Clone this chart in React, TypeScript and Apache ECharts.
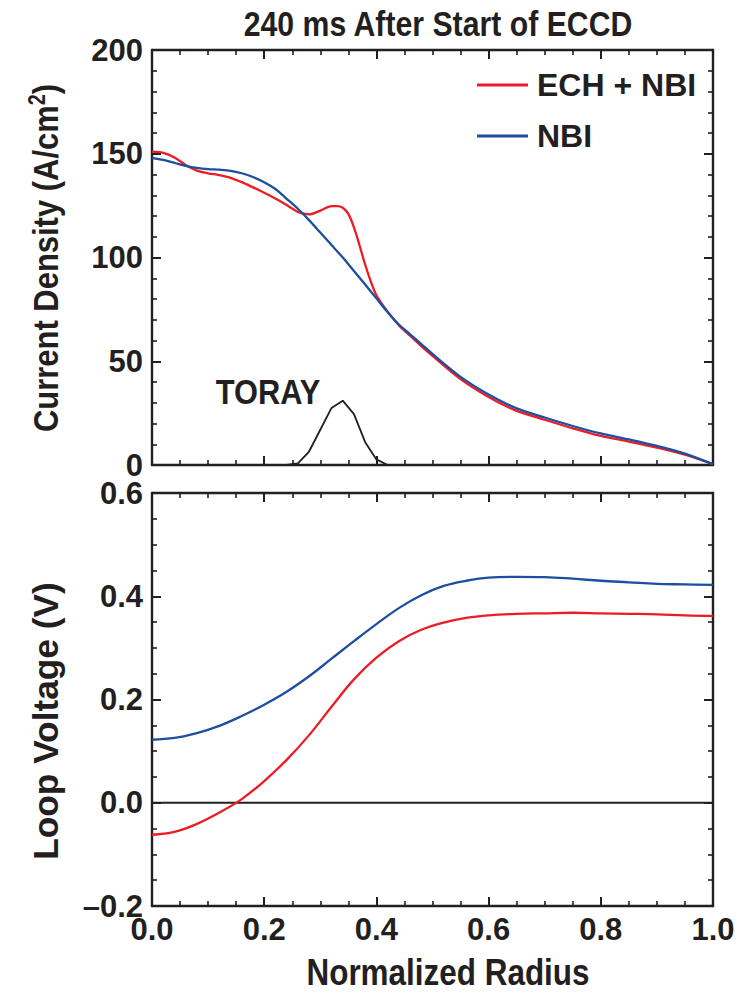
import React, { useEffect, useRef } from "react";
import * as echarts from "echarts";

// ---- Data ----
const xTicks = [0, 0.2, 0.4, 0.6, 0.8, 1.0];

// Top panel: current density (A/cm^2)
const radiusNbiTop = [0, 0.02, 0.04, 0.06, 0.08, 0.1, 0.12, 0.14, 0.16, 0.18, 0.2, 0.22, 0.24, 0.26, 0.28, 0.3, 0.32, 0.34, 0.36, 0.38, 0.4, 0.42, 0.44, 0.46, 0.48, 0.5, 0.55, 0.6, 0.65, 0.7, 0.75, 0.8, 0.85, 0.9, 0.95, 1.0];
const currentNbi = [148.0, 147.0, 145.6, 144.2, 143.2, 142.6, 142.3, 141.8, 140.6, 138.8, 136.3, 133.0, 128.3, 123.5, 118.0, 112.0, 106.0, 100.0, 93.5, 87.0, 80.3, 73.7, 67.7, 63.0, 58.3, 53.5, 42.5, 34.0, 27.3, 22.9, 18.8, 15.2, 12.3, 9.2, 5.5, 0.4];

const radiusEchTop = [0, 0.02, 0.04, 0.06, 0.08, 0.1, 0.12, 0.14, 0.16, 0.18, 0.2, 0.22, 0.24, 0.26, 0.28, 0.3, 0.32, 0.33, 0.34, 0.35, 0.36, 0.37, 0.38, 0.39, 0.4, 0.42, 0.44, 0.46, 0.48, 0.5, 0.55, 0.6, 0.65, 0.7, 0.75, 0.8, 0.85, 0.9, 0.95, 1.0];
const currentEch = [151.0, 150.4, 148.2, 144.6, 141.9, 140.6, 139.7, 138.4, 136.3, 133.8, 131.2, 128.4, 125.3, 122.0, 120.8, 122.6, 124.8, 124.8, 124.0, 121.0, 114.5, 105.8, 96.5, 88.5, 81.8, 73.9, 67.4, 62.3, 57.3, 52.6, 41.4, 32.8, 26.1, 21.8, 17.7, 14.0, 11.3, 8.4, 5.0, 0.4];

const radiusToray = [0.24, 0.26, 0.28, 0.3, 0.32, 0.34, 0.36, 0.38, 0.4, 0.42];
const currentToray = [0, 0.8, 6.5, 17, 27.5, 31, 24.5, 11, 2.7, 0];

// Bottom panel: loop voltage (V)
const radiusBottom = [0, 0.04, 0.08, 0.12, 0.16, 0.2, 0.24, 0.28, 0.32, 0.36, 0.4, 0.44, 0.48, 0.52, 0.56, 0.6, 0.65, 0.7, 0.75, 0.8, 0.85, 0.9, 0.95, 1.0];
const voltageNbi = [0.122, 0.1255, 0.135, 0.149, 0.168, 0.19, 0.215, 0.245, 0.279, 0.313, 0.346, 0.377, 0.402, 0.42, 0.43, 0.436, 0.4375, 0.437, 0.434, 0.43, 0.427, 0.424, 0.423, 0.422];
const voltageEch = [-0.062, -0.0565, -0.041, -0.019, 0.007, 0.042, 0.083, 0.131, 0.186, 0.239, 0.281, 0.313, 0.335, 0.349, 0.358, 0.363, 0.366, 0.367, 0.368, 0.367, 0.366, 0.365, 0.363, 0.362];

const zeroLineX = [0, 1];
const zeroLineY = [0, 0];

const currentTicks = [0, 50, 100, 150, 200];
const voltageTicks = [-0.2, 0, 0.2, 0.4, 0.6];

const RED = "#ec1c24";
const BLUE = "#1c4f9f";
const INK = "#231f20";
const FONT = "'Liberation Sans', Arial, sans-serif";

const zip = (xs: number[], ys: number[]) => xs.map((x, i) => [x, ys[i]]);

const fmtVolt = (v: number) => {
  const r = Math.round(v * 10) / 10;
  return r < 0 ? "\u2013" + Math.abs(r).toFixed(1) : r.toFixed(1);
};

function makeX(gridIndex: number, position: string, labels: boolean) {
  return {
    type: "value",
    gridIndex,
    position,
    min: xTicks[0],
    max: xTicks[xTicks.length - 1],
    interval: 0.2,
    axisLine: { show: true, onZero: false, lineStyle: { color: INK, width: 2.4 } },
    axisTick: { show: true, inside: true, length: 9, lineStyle: { color: INK, width: 2 } },
    minorTick: { show: true, splitNumber: 4, length: 5, lineStyle: { color: INK, width: 1.6 } },
    splitLine: { show: false },
    axisLabel: {
      show: labels,
      margin: 11,
      color: INK,
      fontFamily: FONT,
      fontWeight: "bold",
      fontSize: 31,
      lineHeight: 24,
      formatter: (v: number) => v.toFixed(1),
    },
  };
}

function makeY(gridIndex: number, position: string, labels: boolean, ticks: number[], minorSplit: number, fmt: (v: number) => string) {
  return {
    type: "value",
    gridIndex,
    position,
    min: ticks[0],
    max: ticks[ticks.length - 1],
    interval: ticks[1] - ticks[0],
    axisLine: { show: true, onZero: false, lineStyle: { color: INK, width: 2.4 } },
    axisTick: { show: true, inside: true, length: 9, lineStyle: { color: INK, width: 2 } },
    minorTick: { show: true, splitNumber: minorSplit, length: 5, lineStyle: { color: INK, width: 1.6 } },
    splitLine: { show: false },
    axisLabel: {
      show: labels,
      margin: 9,
      color: INK,
      fontFamily: FONT,
      fontWeight: "bold",
      fontSize: 31,
      lineHeight: 24,
      formatter: fmt,
    },
  };
}

export default function App() {
  const ref = useRef<HTMLDivElement>(null);

  useEffect(() => {
    document.body.style.margin = "0";
    if (!ref.current) return;
    const chart = echarts.init(ref.current, undefined, { renderer: "svg" });

    const textBase = { fontFamily: FONT, fontWeight: "bold", fill: INK };

    chart.setOption({
      animation: false,
      backgroundColor: "#ffffff",
      grid: [
        { left: 152, top: 50, width: 561, height: 415 },
        { left: 152, top: 493, width: 561, height: 413 },
      ],
      xAxis: [makeX(0, "bottom", false), makeX(0, "top", false), makeX(1, "bottom", true), makeX(1, "top", false)],
      yAxis: [
        makeY(0, "left", true, currentTicks, 5, (v: number) => String(Math.round(v))),
        makeY(0, "right", false, currentTicks, 5, (v: number) => String(Math.round(v))),
        makeY(1, "left", true, voltageTicks, 4, fmtVolt),
        makeY(1, "right", false, voltageTicks, 4, fmtVolt),
      ],
      legend: {
        orient: "vertical",
        left: 472,
        top: 60,
        itemWidth: 51,
        itemHeight: 3,
        itemGap: 11,
        icon: "rect",
        selectedMode: false,
        data: ["ECH + NBI", "NBI"],
        textStyle: {
          color: INK,
          fontFamily: FONT,
          fontWeight: "bold",
          fontSize: 32,
          lineHeight: 40,
          padding: [0, 0, 0, 4],
        },
      },
      graphic: [
        {
          type: "text",
          x: 438,
          y: 24,
          scaleX: 0.84,
          style: { ...textBase, text: "240 ms After Start of ECCD", fontSize: 36, align: "center", verticalAlign: "middle" },
        },
        {
          type: "text",
          x: 268,
          y: 392,
          scaleX: 0.88,
          style: { ...textBase, text: "TORAY", fontSize: 35, align: "center", verticalAlign: "middle" },
        },
        {
          type: "text",
          x: 448,
          y: 972,
          scaleX: 0.85,
          style: { ...textBase, text: "Normalized Radius", fontSize: 37, align: "center", verticalAlign: "middle" },
        },
        {
          type: "text",
          x: 46,
          y: 258,
          rotation: Math.PI / 2,
          scaleX: 0.86,
          style: {
            ...textBase,
            text: "{a|Current Density (A/cm}{s|2}{a|)}",
            align: "center",
            verticalAlign: "middle",
            rich: {
              a: { fontFamily: FONT, fontWeight: "bold", fontSize: 36, lineHeight: 40, fill: INK, verticalAlign: "middle" },
              s: { fontFamily: FONT, fontWeight: "bold", fontSize: 23, lineHeight: 22, fill: INK, verticalAlign: "top" },
            },
          },
        },
        {
          type: "text",
          x: 46,
          y: 721,
          rotation: Math.PI / 2,
          scaleX: 0.98,
          style: { ...textBase, text: "Loop Voltage (V)", fontSize: 36, align: "center", verticalAlign: "middle" },
        },
      ],
      series: [
        {
          name: "zero",
          type: "line",
          xAxisIndex: 2,
          yAxisIndex: 2,
          data: zip(zeroLineX, zeroLineY),
          showSymbol: false,
          lineStyle: { color: INK, width: 1.8 },
          silent: true,
          z: 1,
        },
        {
          name: "TORAY",
          type: "line",
          xAxisIndex: 0,
          yAxisIndex: 0,
          data: zip(radiusToray, currentToray),
          showSymbol: false,
          lineStyle: { color: INK, width: 1.8 },
          z: 2,
        },
        {
          name: "NBI",
          type: "line",
          xAxisIndex: 0,
          yAxisIndex: 0,
          data: zip(radiusNbiTop, currentNbi),
          smooth: 0.3,
          showSymbol: false,
          itemStyle: { color: BLUE },
          lineStyle: { color: BLUE, width: 2.3 },
          z: 3,
        },
        {
          name: "ECH + NBI",
          type: "line",
          xAxisIndex: 0,
          yAxisIndex: 0,
          data: zip(radiusEchTop, currentEch),
          smooth: 0.3,
          showSymbol: false,
          itemStyle: { color: RED },
          lineStyle: { color: RED, width: 2.3 },
          z: 2,
        },
        {
          name: "NBI",
          type: "line",
          xAxisIndex: 2,
          yAxisIndex: 2,
          data: zip(radiusBottom, voltageNbi),
          smooth: 0.4,
          showSymbol: false,
          itemStyle: { color: BLUE },
          lineStyle: { color: BLUE, width: 2.3 },
          z: 3,
        },
        {
          name: "ECH + NBI",
          type: "line",
          xAxisIndex: 2,
          yAxisIndex: 2,
          data: zip(radiusBottom, voltageEch),
          smooth: 0.4,
          showSymbol: false,
          itemStyle: { color: RED },
          lineStyle: { color: RED, width: 2.3 },
          z: 3,
        },
      ],
    });

    return () => chart.dispose();
  }, []);

  return <div ref={ref} style={{ width: 750, height: 993, background: "#fff" }} />;
}
